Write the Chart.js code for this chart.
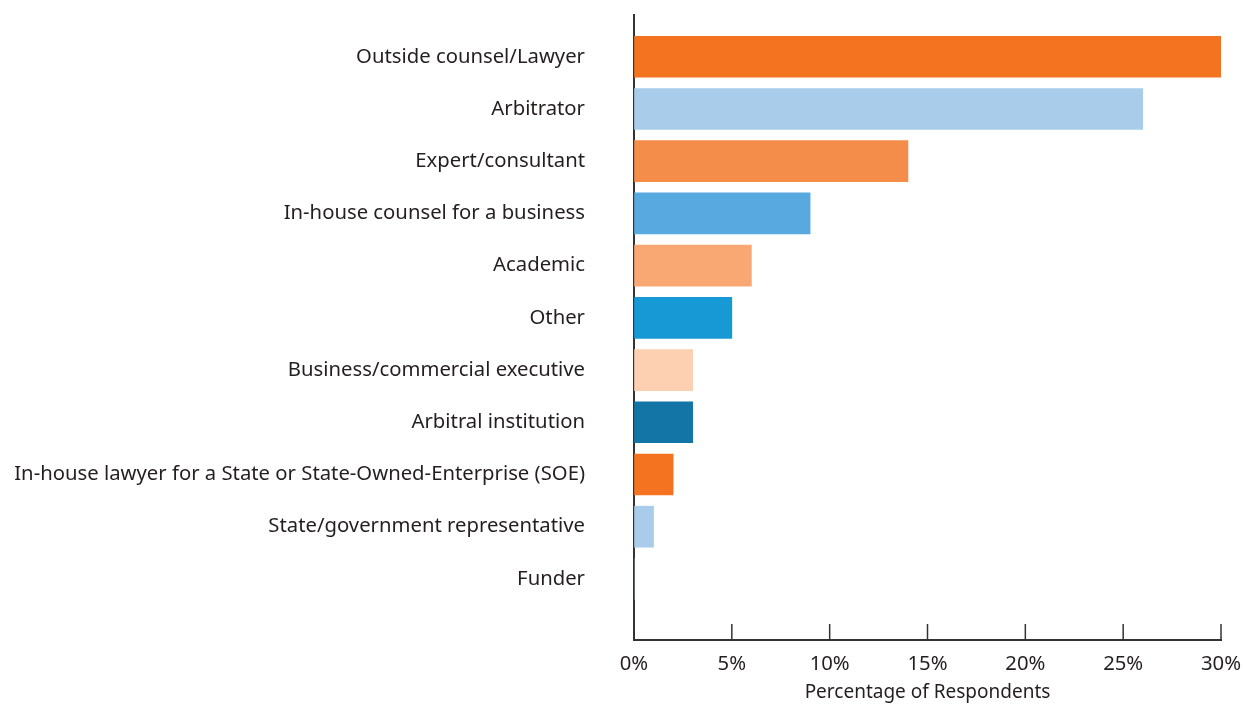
<!DOCTYPE html>
<html>
<head>
<meta charset="utf-8">
<script src="https://cdn.jsdelivr.net/npm/chart.js@4"></script>
<style>
  html, body { margin: 0; padding: 0; background: #fff; }
  #wrap { width: 1243px; height: 704px; }
</style>
</head>
<body>
<div id="wrap"><canvas id="chart"></canvas></div>
<script>
const categories = [
    'Outside counsel/Lawyer',
    'Arbitrator',
    'Expert/consultant',
    'In-house counsel for a business',
    'Academic',
    'Other',
    'Business/commercial executive',
    'Arbitral institution',
    'In-house lawyer for a State or State-Owned-Enterprise (SOE)',
    'State/government representative',
    'Funder'
];
const percentages = [30, 26, 14, 9, 6, 5, 3, 3, 2, 1, 0];
const barColors = [
    '#F37321', '#A9CCEA', '#F58D4A', '#57A9DF', '#F9A773', '#1799D6',
    '#FDD0B2', '#1275A6', '#F37321', '#A9CCEA', '#A9CCEA'
];
const xTicks = [0, 5, 10, 15, 20, 25, 30];

const textColor = '#231F20';
const axisColor = '#333333';
const font = { family: '"Noto Sans", sans-serif', size: 20.3 };

// small ticks pointing up from the x axis
const upTicks = {
    id: 'upTicks',
    afterDraw(chart) {
        const ctx = chart.ctx;
        const x = chart.scales.x;
        const bottom = chart.chartArea.bottom;
        ctx.save();
        ctx.strokeStyle = axisColor;
        ctx.lineWidth = 1.5;
        xTicks.forEach(v => {
            const px = x.getPixelForValue(v);
            ctx.beginPath();
            ctx.moveTo(px, bottom);
            ctx.lineTo(px, bottom - 16);
            ctx.stroke();
        });
        ctx.restore();
    }
};

const ctx = document.getElementById('chart').getContext('2d');
const myChart = new Chart(ctx, {
    type: 'bar',
    data: {
        datasets: [{
            data: percentages.map((v, i) => ({ x: v, y: i })),
            backgroundColor: barColors,
            borderWidth: 0,
            barThickness: 41
        }]
    },
    options: {
        indexAxis: 'y',
        responsive: true,
        maintainAspectRatio: false,
        animation: false,
        layout: { padding: { top: 15, right: 22, bottom: 0, left: 0 } },
        plugins: {
            legend: { display: false },
            tooltip: { enabled: false }
        },
        scales: {
            y: {
                type: 'linear',
                reverse: true,
                offset: false,
                min: -0.8,
                max: 11.17,
                afterBuildTicks: function(scale) {
                    scale.ticks = categories.map((c, i) => ({ value: i }));
                },
                afterFit: function(scale) {
                    scale.width = 634;
                    scale.paddingTop = 0;
                    scale.paddingBottom = 0;
                },
                grid: { display: false, drawTicks: false },
                border: { display: true, color: axisColor, width: 2 },
                ticks: {
                    autoSkip: false,
                    padding: 49,
                    color: textColor,
                    font: font,
                    callback: function(value) {
                        return categories[value] !== undefined ? categories[value] : '';
                    }
                }
            },
            x: {
                type: 'linear',
                min: 0,
                max: 30,
                afterBuildTicks: function(scale) {
                    scale.ticks = xTicks.map(v => ({ value: v }));
                },
                afterFit: function(scale) {
                    scale.height = 64;
                    scale.paddingLeft = 0;
                    scale.paddingRight = 0;
                },
                grid: { display: true, drawOnChartArea: false, drawTicks: false },
                border: { display: true, color: axisColor, width: 2 },
                ticks: {
                    padding: 12,
                    color: textColor,
                    font: font,
                    maxRotation: 0,
                    callback: function(value) { return value + '%'; }
                },
                title: {
                    display: true,
                    text: 'Percentage of Respondents',
                    color: textColor,
                    font: { family: '"Noto Sans", sans-serif', size: 19 },
                    padding: { top: 4, bottom: 0 }
                }
            }
        }
    },
    plugins: [upTicks]
});
</script>
</body>
</html>
